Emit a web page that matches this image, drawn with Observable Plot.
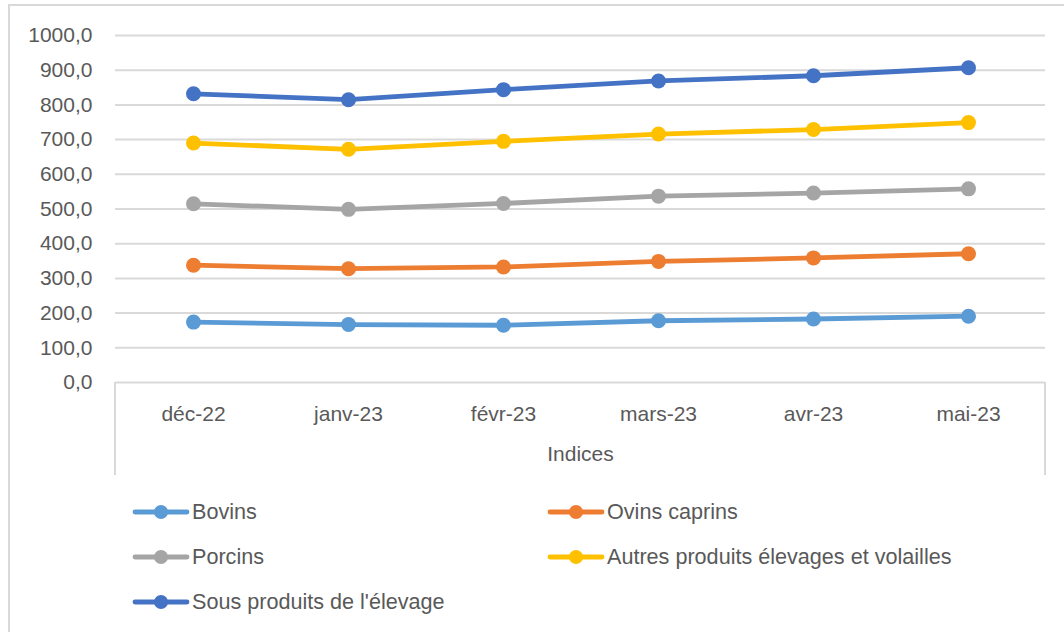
<!DOCTYPE html>
<html><head><meta charset="utf-8">
<script src="https://cdn.jsdelivr.net/npm/d3@7"></script>
<script src="https://cdn.jsdelivr.net/npm/@observablehq/plot@0.6"></script>
<style>
html,body{margin:0;padding:0;background:#fff;overflow:hidden}
#wrap{position:relative;width:1064px;height:632px;font-family:"Liberation Sans",Arial,sans-serif;color:#595959;overflow:hidden}
#border{position:absolute;left:8px;top:4px;width:1100px;height:700px;border-left:2px solid #d9d9d9;border-top:2px solid #d9d9d9}
#chart{position:absolute;left:0;top:0}
#box{position:absolute;border-left:2px solid #d9d9d9;border-right:2px solid #d9d9d9}
#legend{position:absolute;left:132px;top:489px;display:grid;grid-template-columns:415px 420px;grid-auto-rows:45px}
.item{display:flex;align-items:center;font-size:21.6px;white-space:nowrap}
.item svg{margin-right:2px;flex:none}
</style></head>
<body>
<div id="wrap"><div id="border"></div><div id="box"></div><div id="chart"></div><div id="legend"></div></div>
<script>
const months = ["déc-22","janv-23","févr-23","mars-23","avr-23","mai-23"];
const seriesNames = ["Bovins","Ovins caprins","Porcins","Autres produits élevages et volailles","Sous produits de l'élevage"];
const bovins = [174,167,165,178,183,191];
const ovinsCaprins = [338,328,333,349,359,371];
const porcins = [515,499,516,537,546,558];
const autres = [690,672,695,716,729,749];
const sousProduits = [832,815,844,869,884,907];
const colors = ["#5B9BD5","#ED7D31","#A5A5A5","#FFC000","#4472C4"];
const yTicks = [0,100,200,300,400,500,600,700,800,900,1000];
const axisTitle = "Indices";

const seriesValues = [bovins, ovinsCaprins, porcins, autres, sousProduits];
const data = [];
seriesNames.forEach((s, i) => months.forEach((m, j) => data.push({series: s, month: m, value: seriesValues[i][j]})));

const W = 1064, H = 490, mL = 115, mR = 19, mT = 35, mB = 108;
const font = '"Liberation Sans", Arial, sans-serif';

const plot = Plot.plot({
  width: W, height: H,
  marginLeft: mL, marginRight: mR, marginTop: mT, marginBottom: mB,
  x: {type: "point", domain: months, padding: 0.5},
  y: {domain: [0, 1000]},
  color: {domain: seriesNames, range: colors},
  style: {fontFamily: font, fontSize: "21px", color: "#595959", background: "transparent", overflow: "visible"},
  marks: [
    Plot.ruleY(yTicks, {stroke: "#d9d9d9", strokeWidth: 2}),
    Plot.axisY({ticks: yTicks, tickSize: 0, tickPadding: 23, tickFormat: d => d.toFixed(1).replace(".", ","), label: null}),
    Plot.axisX({tickSize: 0, tickPadding: 24, label: null}),
    Plot.line(data, {x: "month", y: "value", z: "series", stroke: "series", strokeWidth: 4.8}),
    Plot.dot(data, {x: "month", y: "value", fill: "series", r: 7.5}),
    Plot.text([axisTitle], {text: d => d, frameAnchor: "bottom", dy: 78, fill: "#595959"})
  ]
});
document.getElementById("chart").appendChild(plot);

const box = document.getElementById("box");
box.style.left = (mL - 1) + "px";
box.style.top = (H - mB) + "px";
box.style.width = (W - mL - mR - 2) + "px";
box.style.height = "93px";

const legend = document.getElementById("legend");
seriesNames.forEach((s, i) => {
  const item = document.createElement("div");
  item.className = "item";
  item.innerHTML = `<svg width="58" height="18"><line x1="3" x2="55" y1="9" y2="9" stroke="${colors[i]}" stroke-width="4.8" stroke-linecap="round"/><circle cx="29" cy="9" r="7" fill="${colors[i]}"/></svg><span></span>`;
  item.querySelector("span").textContent = s;
  legend.appendChild(item);
});
</script>
</body></html>
